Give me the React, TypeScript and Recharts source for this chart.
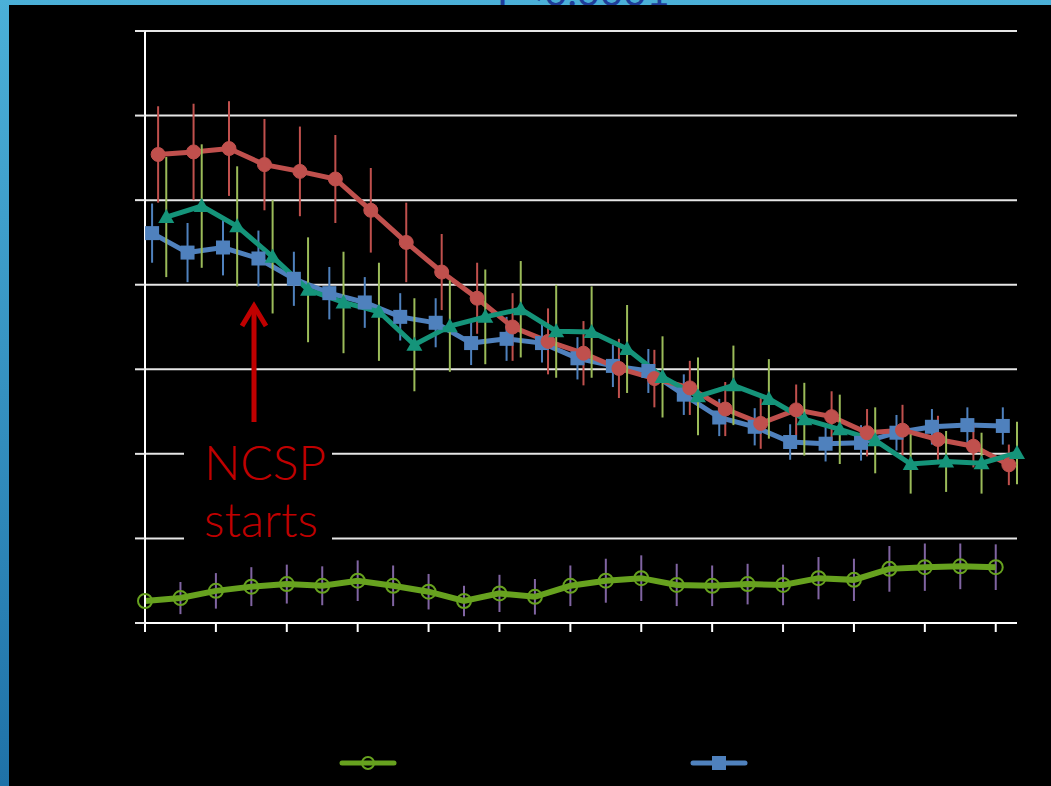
import React from "react"
import {
  LineChart,
  Line,
  XAxis,
  YAxis,
  CartesianGrid,
  ErrorBar,
} from "recharts"

// periods (x categories)
const periods = [0, 1, 2, 3, 4, 5, 6, 7, 8, 9, 10, 11, 12, 13, 14, 15, 16, 17, 18, 19, 20, 21, 22, 23, 24]
const xTicks = [0, 2, 4, 6, 8, 10, 12, 14, 16, 18, 20, 22, 24]
const yTicks = [0, 10, 20, 30, 40, 50, 60, 70]

const redVals = [55.4, 55.7, 56.1, 54.2, 53.4, 52.5, 48.8, 45.0, 41.5, 38.4, 35.0, 33.3, 31.9, 30.1, 28.9, 27.8, 25.3, 23.6, 25.2, 24.4, 22.5, 22.8, 21.7, 20.9, 18.7]
const redErr = [5.7, 5.7, 5.6, 5.4, 5.3, 5.2, 5.0, 4.7, 4.5, 4.2, 4.0, 3.9, 3.8, 3.5, 3.4, 3.2, 3.2, 3.0, 3.0, 3.0, 2.8, 3.0, 2.8, 2.5, 2.4]

const blueVals = [46.1, 43.8, 44.4, 43.1, 40.7, 39.0, 37.9, 36.2, 35.5, 33.1, 33.6, 33.1, 31.3, 30.4, 29.8, 27.0, 24.3, 23.2, 21.4, 21.2, 21.3, 22.5, 23.2, 23.4, 23.3]
const blueErr = [3.5, 3.5, 3.3, 3.3, 3.2, 3.1, 3.0, 2.8, 2.9, 2.6, 2.6, 2.3, 2.5, 2.5, 2.6, 2.4, 2.2, 2.2, 2.1, 2.1, 2.1, 2.1, 2.1, 2.1, 2.2]

const tealVals = [48.0, 49.3, 46.9, 43.3, 39.4, 37.9, 36.8, 32.9, 35.1, 36.2, 37.1, 34.5, 34.4, 32.4, 29.1, 26.8, 28.1, 26.5, 24.1, 22.9, 21.6, 18.8, 19.1, 18.9, 20.1]
const tealErr = [7.1, 7.3, 7.1, 6.7, 6.2, 6.0, 5.8, 5.5, 5.4, 5.6, 5.7, 5.5, 5.4, 5.2, 4.8, 4.6, 4.7, 4.7, 4.3, 4.1, 3.9, 3.5, 3.6, 3.6, 3.7]

const greenVals = [2.6, 2.95, 3.8, 4.3, 4.6, 4.4, 5.0, 4.4, 3.7, 2.6, 3.5, 3.1, 4.4, 5.0, 5.3, 4.5, 4.4, 4.6, 4.5, 5.3, 5.1, 6.4, 6.6, 6.7, 6.6]
const greenErr = [1.8, 1.9, 2.1, 2.3, 2.3, 2.3, 2.4, 2.4, 2.1, 1.8, 2.2, 2.1, 2.4, 2.6, 2.7, 2.5, 2.4, 2.4, 2.4, 2.5, 2.5, 2.7, 2.8, 2.7, 2.7]

const COLORS = {
  red: "#c0504d",
  blue: "#4f81bd",
  teal: "#15947a",
  green: "#67a21f",
  purple: "#8064a2",
  lime: "#9bbb59",
  arrow: "#c00000",
}

// series are nudged sideways a little so the error bars don't sit on top of each other
const build = (vals: number[], errs: number[], shift: number) =>
  periods.map((p, i) => ({ x: p + shift, v: vals[i], e: errs[i] }))

const greenData = build(greenVals, greenErr, 0)
const blueData = build(blueVals, blueErr, 0.2)
const redData = build(redVals, redErr, 0.37)
const tealData = build(tealVals, tealErr, 0.6)

const SquareDot = (p: any) => (
  <rect key={`sq-${p.index}`} x={p.cx - 7} y={p.cy - 7} width={14} height={14} fill={COLORS.blue} />
)

const TriDot = (p: any) => (
  <path
    key={`tri-${p.index}`}
    d={`M${p.cx},${p.cy - 8} L${p.cx + 8},${p.cy + 6} L${p.cx - 8},${p.cy + 6} Z`}
    fill={COLORS.teal}
  />
)

// labels are black on black in the original, so just skip them
const NoLabel = () => <g />

export default function App() {
  return (
    <div
      style={{
        position: "absolute",
        left: 0,
        top: 0,
        width: 1051,
        height: 786,
        overflow: "hidden",
        background: "linear-gradient(#4bb0d8, #1f72a8)",
      }}
    >
      <div
        style={{
          position: "absolute",
          left: 497,
          top: -33,
          fontFamily: "Lato, 'DejaVu Sans', sans-serif",
          fontSize: 40,
          color: "#1f3d99",
          whiteSpace: "nowrap",
        }}
      >
        P&lt;0.0001
      </div>
      <div
        style={{
          position: "absolute",
          left: 9,
          top: 5,
          right: 0,
          bottom: 0,
          background: "#000",
        }}
      />
      <div style={{ position: "absolute", left: 0, top: 0 }}>
        <LineChart
          width={1051}
          height={786}
          margin={{ top: 31, right: 34, bottom: 133, left: 85 }}
        >
          <CartesianGrid vertical={false} stroke="#e6e6e6" strokeWidth={2} />
          <XAxis
            type="number"
            dataKey="x"
            domain={[0, 24.6]}
            ticks={xTicks}
            height={30}
            tick={NoLabel}
            tickSize={9}
            axisLine={{ stroke: "#fff", strokeWidth: 2 }}
            tickLine={{ stroke: "#fff", strokeWidth: 2 }}
            allowDuplicatedCategory={false}
          />
          <YAxis
            type="number"
            domain={[0, 70]}
            ticks={yTicks}
            width={60}
            tick={NoLabel}
            tickSize={10}
            axisLine={{ stroke: "#fff", strokeWidth: 2 }}
            tickLine={{ stroke: "#e6e6e6", strokeWidth: 2 }}
          />
          <Line
            data={greenData}
            dataKey="v"
            type="linear"
            stroke={COLORS.green}
            strokeWidth={6}
            dot={{ r: 7, fill: "none", stroke: COLORS.green, strokeWidth: 2 }}
            isAnimationActive={false}
          >
            <ErrorBar dataKey="e" direction="y" width={0} stroke={COLORS.purple} strokeWidth={2} />
          </Line>
          <Line
            data={blueData}
            dataKey="v"
            type="linear"
            stroke={COLORS.blue}
            strokeWidth={5}
            dot={SquareDot}
            isAnimationActive={false}
          >
            <ErrorBar dataKey="e" direction="y" width={0} stroke={COLORS.blue} strokeWidth={2} />
          </Line>
          <Line
            data={redData}
            dataKey="v"
            type="linear"
            stroke={COLORS.red}
            strokeWidth={5}
            dot={{ r: 7, fill: COLORS.red, stroke: COLORS.red, strokeWidth: 1 }}
            isAnimationActive={false}
          >
            <ErrorBar dataKey="e" direction="y" width={0} stroke={COLORS.red} strokeWidth={2} />
          </Line>
          <Line
            data={tealData}
            dataKey="v"
            type="linear"
            stroke={COLORS.teal}
            strokeWidth={5}
            dot={TriDot}
            isAnimationActive={false}
          >
            <ErrorBar dataKey="e" direction="y" width={0} stroke={COLORS.lime} strokeWidth={2} />
          </Line>
        </LineChart>
      </div>
      {/* annotation + legend */}
      <svg
        width={1051}
        height={786}
        style={{ position: "absolute", left: 0, top: 0, pointerEvents: "none" }}
      >
        <rect x={184} y={432} width={148} height={114} fill="#000" />
        <line x1={254} y1={422} x2={254} y2={308} stroke={COLORS.arrow} strokeWidth={5} />
        <polyline
          points="242,326 254,306 266,326"
          fill="none"
          stroke={COLORS.arrow}
          strokeWidth={5}
        />
        <text
          x={204}
          y={480}
          fill={COLORS.arrow}
          fontFamily="Lato, 'DejaVu Sans', sans-serif"
          fontWeight={300}
          fontSize={48}
        >
          NCSP
        </text>
        <text
          x={204}
          y={537}
          fill={COLORS.arrow}
          fontFamily="Lato, 'DejaVu Sans', sans-serif"
          fontWeight={300}
          fontSize={48}
        >
          starts
        </text>
        <line x1={342} y1={763} x2={394} y2={763} stroke={COLORS.green} strokeWidth={5} strokeLinecap="round" />
        <circle cx={368} cy={763} r={6} fill="none" stroke={COLORS.green} strokeWidth={2} />
        <line x1={693} y1={763} x2={745} y2={763} stroke={COLORS.blue} strokeWidth={5} strokeLinecap="round" />
        <rect x={712} y={756} width={14} height={14} fill={COLORS.blue} />
      </svg>
    </div>
  )
}
